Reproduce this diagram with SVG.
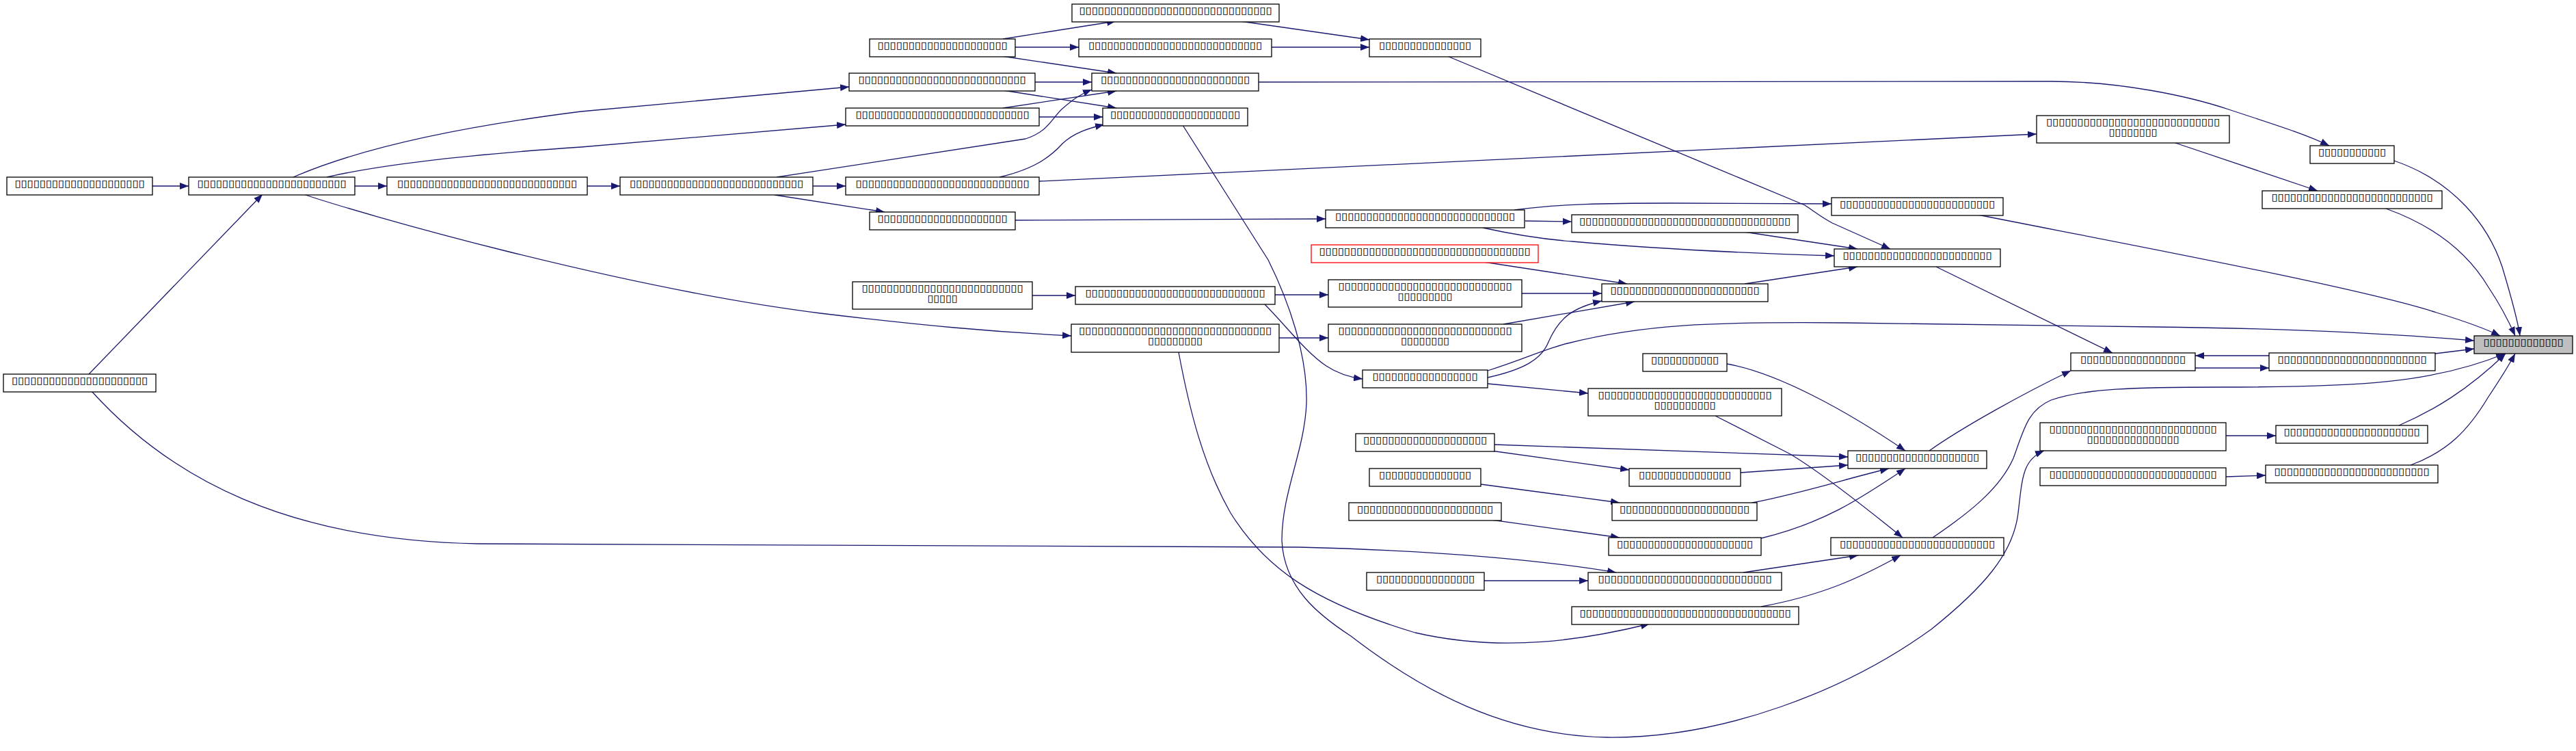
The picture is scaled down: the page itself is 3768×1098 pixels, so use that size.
<svg xmlns="http://www.w3.org/2000/svg" width="3768" height="1098" viewBox="0 0 3768 1098">
<style>
.n rect{fill:#fff;stroke:#000;stroke-width:1.3}
.n text{font-family:"DejaVu Sans",sans-serif;font-size:14px;text-anchor:middle;fill:#000;opacity:0.995}
.e path{fill:none;stroke:#191970;stroke-width:1.3;marker-end:url(#a)}
</style>
<defs>
<marker id="a" markerWidth="13" markerHeight="10" refX="13" refY="5" orient="auto" markerUnits="userSpaceOnUse"><path d="M0,0L13,5L0,10z" fill="#191970"/></marker>
</defs>
<rect width="3768" height="1098" fill="#fff"/>
<g class="e" id="edges">
<path d="M223,272L276,272"/>
<path d="M519,272L566,272"/>
<path d="M130,547L384,284"/>
<path d="M859,272L907,272"/>
<path d="M429,259C500,228 620,192 850,163L1242,127"/>
<path d="M478,259C560,240 700,225 850,215L1237,182"/>
<path d="M1189,272L1237,272"/>
<path d="M1133,285L1294,310"/>
<path d="M1136,259L1500,203C1535,192 1540,170 1555,158C1570,145 1580,138 1597,131"/>
<path d="M1514,120L1597,120"/>
<path d="M1467,132L1633,158"/>
<path d="M1520,171L1613,171"/>
<path d="M1467,158L1633,133"/>
<path d="M1485,69L1578,69"/>
<path d="M1467,57L1632,31"/>
<path d="M1465,82L1633,107"/>
<path d="M1462,259C1500,250 1530,237 1554,210C1570,195 1590,188 1615,182"/>
<path d="M1520,265L2979,196"/>
<path d="M1485,322L1939,320"/>
<path d="M1841,120L3000,119C3100,119 3200,140 3260,160C3320,180 3370,195 3407,213"/>
<path d="M1860,69L2003,69"/>
<path d="M1814,31L2003,58"/>
<path d="M2117,82L2640,300C2655,310 2665,318 2680,326L2765,364"/>
<path d="M2215,307C2280,298 2350,297 2444,297L2679,298"/>
<path d="M2231,323L2299,324"/>
<path d="M2169,333C2210,342 2260,350 2300,353C2400,362 2550,370 2683,374"/>
<path d="M2551,339L2717,364"/>
<path d="M2888,313C3100,355 3450,420 3564,457C3600,468 3630,478 3657,491"/>
<path d="M3182,209L3390,279"/>
<path d="M3502,235C3590,265 3640,330 3660,390C3675,440 3683,470 3686,491"/>
<path d="M3490,305C3560,330 3610,370 3640,420C3660,450 3672,475 3679,491"/>
<path d="M2832,390L3090,516"/>
<path d="M3211,538L3319,538"/>
<path d="M3319,520L3211,520"/>
<path d="M3562,517L3619,510"/>
<path d="M3509,622C3560,600 3610,570 3665,517"/>
<path d="M3526,680C3580,660 3610,630 3640,580C3660,550 3672,530 3679,517"/>
<path d="M3256,637L3329,637"/>
<path d="M3256,697L3314,695"/>
<path d="M2822,659C2870,625 2960,575 3029,542"/>
<path d="M2827,786C2880,750 2925,715 2945,670C2960,630 2965,600 3000,585C3050,568 3120,566 3250,566C3450,566 3560,560 3664,517"/>
<path d="M2186,650L2703,668"/>
<path d="M2181,659L2383,687"/>
<path d="M2546,691L2703,680"/>
<path d="M2166,708L2369,735"/>
<path d="M2563,735C2640,720 2700,700 2763,685"/>
<path d="M2181,760L2369,786"/>
<path d="M2576,787C2667,765 2720,730 2787,685"/>
<path d="M2171,849L2323,849"/>
<path d="M134,572C250,700 420,790 700,795L1900,800C2100,805 2250,818 2364,837"/>
<path d="M2550,837L2718,812"/>
<path d="M2576,887C2667,870 2720,845 2780,812"/>
<path d="M2509,608L2617,663C2660,688 2720,735 2783,786"/>
<path d="M2526,532C2600,545 2700,600 2787,659"/>
<path d="M2176,552C2230,540 2255,525 2265,500C2280,465 2300,450 2343,440"/>
<path d="M2176,561L2323,575"/>
<path d="M2176,542C2230,525 2260,510 2293,502C2400,475 2500,470 2700,472L3150,478C3350,480 3500,488 3619,498"/>
<path d="M1865,431L1943,431"/>
<path d="M1850,445C1880,475 1910,515 1940,535C1955,545 1970,551 1993,554"/>
<path d="M1510,432L1573,432"/>
<path d="M1871,494L1943,494"/>
<path d="M1724,515C1740,600 1760,680 1800,750C1850,830 1920,880 2070,925C2200,955 2320,935 2413,912"/>
<path d="M444,284C520,310 900,420 1200,458C1350,476 1450,485 1567,491"/>
<path d="M2226,429L2343,429"/>
<path d="M2199,474L2391,441"/>
<path d="M2170,383L2380,415"/>
<path d="M2552,415L2717,390"/>
<path d="M1730,183L1855,380C1885,440 1913,520 1911,590C1908,660 1875,720 1875,790C1878,860 1930,900 1976,930C2080,1010 2200,1075 2350,1078C2520,1080 2700,1010 2825,920C2900,860 2945,810 2952,750C2958,700 2958,672 2990,659"/>
</g>
<g class="n" id="n_target"><rect x="3619" y="491" width="144" height="26" style="fill:#bfbfbf"/><text x="3691" y="505" textLength="117" lengthAdjust="spacingAndGlyphs">▯▯▯▯▯▯▯▯▯▯▯▯▯</text></g>
<g class="n" id="n_a"><rect x="10" y="259" width="213" height="26"/><text x="116.5" y="273" textLength="190" lengthAdjust="spacingAndGlyphs">▯▯▯▯▯▯▯▯▯▯▯▯▯▯▯▯▯▯▯▯▯</text></g>
<g class="n" id="n_b"><rect x="5" y="547" width="223" height="26"/><text x="116.5" y="561" textLength="199" lengthAdjust="spacingAndGlyphs">▯▯▯▯▯▯▯▯▯▯▯▯▯▯▯▯▯▯▯▯▯▯</text></g>
<g class="n" id="n_c"><rect x="276" y="259" width="243" height="26"/><text x="397.5" y="273" textLength="218" lengthAdjust="spacingAndGlyphs">▯▯▯▯▯▯▯▯▯▯▯▯▯▯▯▯▯▯▯▯▯▯▯▯</text></g>
<g class="n" id="n_d"><rect x="566" y="259" width="293" height="26"/><text x="712.5" y="273" textLength="263" lengthAdjust="spacingAndGlyphs">▯▯▯▯▯▯▯▯▯▯▯▯▯▯▯▯▯▯▯▯▯▯▯▯▯▯▯▯▯</text></g>
<g class="n" id="n_e"><rect x="907" y="259" width="282" height="26"/><text x="1048" y="273" textLength="254" lengthAdjust="spacingAndGlyphs">▯▯▯▯▯▯▯▯▯▯▯▯▯▯▯▯▯▯▯▯▯▯▯▯▯▯▯▯</text></g>
<g class="n" id="n_h"><rect x="1272" y="57" width="213" height="26"/><text x="1378.5" y="71" textLength="190" lengthAdjust="spacingAndGlyphs">▯▯▯▯▯▯▯▯▯▯▯▯▯▯▯▯▯▯▯▯▯</text></g>
<g class="n" id="n_f"><rect x="1242" y="107" width="272" height="26"/><text x="1378" y="121" textLength="245" lengthAdjust="spacingAndGlyphs">▯▯▯▯▯▯▯▯▯▯▯▯▯▯▯▯▯▯▯▯▯▯▯▯▯▯▯</text></g>
<g class="n" id="n_g"><rect x="1237" y="158" width="283" height="26"/><text x="1378.5" y="172" textLength="254" lengthAdjust="spacingAndGlyphs">▯▯▯▯▯▯▯▯▯▯▯▯▯▯▯▯▯▯▯▯▯▯▯▯▯▯▯▯</text></g>
<g class="n" id="n_i"><rect x="1237" y="259" width="283" height="26"/><text x="1378.5" y="273" textLength="254" lengthAdjust="spacingAndGlyphs">▯▯▯▯▯▯▯▯▯▯▯▯▯▯▯▯▯▯▯▯▯▯▯▯▯▯▯▯</text></g>
<g class="n" id="n_j"><rect x="1272" y="310" width="213" height="26"/><text x="1378.5" y="324" textLength="190" lengthAdjust="spacingAndGlyphs">▯▯▯▯▯▯▯▯▯▯▯▯▯▯▯▯▯▯▯▯▯</text></g>
<g class="n" id="n_ac"><rect x="1247" y="412" width="263" height="40"/><text x="1378.5" y="426" textLength="236" lengthAdjust="spacingAndGlyphs">▯▯▯▯▯▯▯▯▯▯▯▯▯▯▯▯▯▯▯▯▯▯▯▯▯▯</text><text x="1378.5" y="441" textLength="44" lengthAdjust="spacingAndGlyphs">▯▯▯▯▯</text></g>
<g class="n" id="n_k"><rect x="1568" y="6" width="303" height="26"/><text x="1719.5" y="20" textLength="282" lengthAdjust="spacingAndGlyphs">▯▯▯▯▯▯▯▯▯▯▯▯▯▯▯▯▯▯▯▯▯▯▯▯▯▯▯▯▯▯▯</text></g>
<g class="n" id="n_l"><rect x="1578" y="57" width="282" height="26"/><text x="1719" y="71" textLength="254" lengthAdjust="spacingAndGlyphs">▯▯▯▯▯▯▯▯▯▯▯▯▯▯▯▯▯▯▯▯▯▯▯▯▯▯▯▯</text></g>
<g class="n" id="n_m"><rect x="1597" y="107" width="244" height="26"/><text x="1719" y="121" textLength="218" lengthAdjust="spacingAndGlyphs">▯▯▯▯▯▯▯▯▯▯▯▯▯▯▯▯▯▯▯▯▯▯▯▯</text></g>
<g class="n" id="n_n"><rect x="1613" y="158" width="212" height="26"/><text x="1719" y="172" textLength="190" lengthAdjust="spacingAndGlyphs">▯▯▯▯▯▯▯▯▯▯▯▯▯▯▯▯▯▯▯▯▯</text></g>
<g class="n" id="n_ab"><rect x="1573" y="419" width="292" height="26"/><text x="1719" y="433" textLength="263" lengthAdjust="spacingAndGlyphs">▯▯▯▯▯▯▯▯▯▯▯▯▯▯▯▯▯▯▯▯▯▯▯▯▯▯▯▯▯</text></g>
<g class="n" id="n_ad"><rect x="1567" y="474" width="304" height="41"/><text x="1719" y="488" textLength="282" lengthAdjust="spacingAndGlyphs">▯▯▯▯▯▯▯▯▯▯▯▯▯▯▯▯▯▯▯▯▯▯▯▯▯▯▯▯▯▯▯</text><text x="1719" y="503" textLength="80" lengthAdjust="spacingAndGlyphs">▯▯▯▯▯▯▯▯▯</text></g>
<g class="n" id="n_o"><rect x="2003" y="57" width="163" height="26"/><text x="2084.5" y="71" textLength="135" lengthAdjust="spacingAndGlyphs">▯▯▯▯▯▯▯▯▯▯▯▯▯▯▯</text></g>
<g class="n" id="n_t"><rect x="1939" y="307" width="291" height="26"/><text x="2084.5" y="321" textLength="263" lengthAdjust="spacingAndGlyphs">▯▯▯▯▯▯▯▯▯▯▯▯▯▯▯▯▯▯▯▯▯▯▯▯▯▯▯▯▯</text></g>
<g class="n" id="n_u"><rect x="2299" y="314" width="331" height="26"/><text x="2464.5" y="328" textLength="309" lengthAdjust="spacingAndGlyphs">▯▯▯▯▯▯▯▯▯▯▯▯▯▯▯▯▯▯▯▯▯▯▯▯▯▯▯▯▯▯▯▯▯▯</text></g>
<g class="n" id="n_s"><rect x="2679" y="289" width="251" height="26"/><text x="2804.5" y="303" textLength="227" lengthAdjust="spacingAndGlyphs">▯▯▯▯▯▯▯▯▯▯▯▯▯▯▯▯▯▯▯▯▯▯▯▯▯</text></g>
<g class="n" id="n_v"><rect x="2683" y="364" width="243" height="26"/><text x="2804.5" y="378" textLength="218" lengthAdjust="spacingAndGlyphs">▯▯▯▯▯▯▯▯▯▯▯▯▯▯▯▯▯▯▯▯▯▯▯▯</text></g>
<g class="n" id="n_x"><rect x="2343" y="415" width="243" height="26"/><text x="2464.5" y="429" textLength="218" lengthAdjust="spacingAndGlyphs">▯▯▯▯▯▯▯▯▯▯▯▯▯▯▯▯▯▯▯▯▯▯▯▯</text></g>
<g class="n" id="n_w"><rect x="1918" y="358" width="332" height="26" style="stroke:#ff0000"/><text x="2084" y="372" textLength="309" lengthAdjust="spacingAndGlyphs">▯▯▯▯▯▯▯▯▯▯▯▯▯▯▯▯▯▯▯▯▯▯▯▯▯▯▯▯▯▯▯▯▯▯</text></g>
<g class="n" id="n_y"><rect x="1943" y="409" width="283" height="40"/><text x="2084.5" y="423" textLength="254" lengthAdjust="spacingAndGlyphs">▯▯▯▯▯▯▯▯▯▯▯▯▯▯▯▯▯▯▯▯▯▯▯▯▯▯▯▯</text><text x="2084.5" y="438" textLength="80" lengthAdjust="spacingAndGlyphs">▯▯▯▯▯▯▯▯▯</text></g>
<g class="n" id="n_z"><rect x="1943" y="474" width="283" height="40"/><text x="2084.5" y="488" textLength="254" lengthAdjust="spacingAndGlyphs">▯▯▯▯▯▯▯▯▯▯▯▯▯▯▯▯▯▯▯▯▯▯▯▯▯▯▯▯</text><text x="2084.5" y="503" textLength="71" lengthAdjust="spacingAndGlyphs">▯▯▯▯▯▯▯▯</text></g>
<g class="n" id="n_aa"><rect x="1993" y="541" width="183" height="26"/><text x="2084.5" y="555" textLength="154" lengthAdjust="spacingAndGlyphs">▯▯▯▯▯▯▯▯▯▯▯▯▯▯▯▯▯</text></g>
<g class="n" id="n_p"><rect x="2979" y="169" width="282" height="40"/><text x="3120" y="183" textLength="254" lengthAdjust="spacingAndGlyphs">▯▯▯▯▯▯▯▯▯▯▯▯▯▯▯▯▯▯▯▯▯▯▯▯▯▯▯▯</text><text x="3120" y="198" textLength="71" lengthAdjust="spacingAndGlyphs">▯▯▯▯▯▯▯▯</text></g>
<g class="n" id="n_q"><rect x="3379" y="213" width="123" height="26"/><text x="3440.5" y="227" textLength="99" lengthAdjust="spacingAndGlyphs">▯▯▯▯▯▯▯▯▯▯▯</text></g>
<g class="n" id="n_r"><rect x="3309" y="279" width="263" height="26"/><text x="3440.5" y="293" textLength="236" lengthAdjust="spacingAndGlyphs">▯▯▯▯▯▯▯▯▯▯▯▯▯▯▯▯▯▯▯▯▯▯▯▯▯▯</text></g>
<g class="n" id="n_ae"><rect x="3029" y="516" width="182" height="26"/><text x="3120" y="530" textLength="154" lengthAdjust="spacingAndGlyphs">▯▯▯▯▯▯▯▯▯▯▯▯▯▯▯▯▯</text></g>
<g class="n" id="n_af"><rect x="3319" y="516" width="243" height="26"/><text x="3440.5" y="530" textLength="218" lengthAdjust="spacingAndGlyphs">▯▯▯▯▯▯▯▯▯▯▯▯▯▯▯▯▯▯▯▯▯▯▯▯</text></g>
<g class="n" id="n_ai"><rect x="2984" y="618" width="272" height="41"/><text x="3120" y="632" textLength="245" lengthAdjust="spacingAndGlyphs">▯▯▯▯▯▯▯▯▯▯▯▯▯▯▯▯▯▯▯▯▯▯▯▯▯▯▯</text><text x="3120" y="647" textLength="135" lengthAdjust="spacingAndGlyphs">▯▯▯▯▯▯▯▯▯▯▯▯▯▯▯</text></g>
<g class="n" id="n_aj"><rect x="3329" y="622" width="222" height="26"/><text x="3440" y="636" textLength="199" lengthAdjust="spacingAndGlyphs">▯▯▯▯▯▯▯▯▯▯▯▯▯▯▯▯▯▯▯▯▯▯</text></g>
<g class="n" id="n_ak"><rect x="2984" y="684" width="272" height="26"/><text x="3120" y="698" textLength="245" lengthAdjust="spacingAndGlyphs">▯▯▯▯▯▯▯▯▯▯▯▯▯▯▯▯▯▯▯▯▯▯▯▯▯▯▯</text></g>
<g class="n" id="n_al"><rect x="3314" y="680" width="252" height="26"/><text x="3440" y="694" textLength="227" lengthAdjust="spacingAndGlyphs">▯▯▯▯▯▯▯▯▯▯▯▯▯▯▯▯▯▯▯▯▯▯▯▯▯</text></g>
<g class="n" id="n_an"><rect x="2703" y="659" width="203" height="26"/><text x="2804.5" y="673" textLength="181" lengthAdjust="spacingAndGlyphs">▯▯▯▯▯▯▯▯▯▯▯▯▯▯▯▯▯▯▯▯</text></g>
<g class="n" id="n_at"><rect x="2678" y="786" width="253" height="26"/><text x="2804.5" y="800" textLength="227" lengthAdjust="spacingAndGlyphs">▯▯▯▯▯▯▯▯▯▯▯▯▯▯▯▯▯▯▯▯▯▯▯▯▯</text></g>
<g class="n" id="n_ag"><rect x="2403" y="517" width="123" height="26"/><text x="2464.5" y="531" textLength="99" lengthAdjust="spacingAndGlyphs">▯▯▯▯▯▯▯▯▯▯▯</text></g>
<g class="n" id="n_ah"><rect x="2323" y="568" width="283" height="40"/><text x="2464.5" y="582" textLength="254" lengthAdjust="spacingAndGlyphs">▯▯▯▯▯▯▯▯▯▯▯▯▯▯▯▯▯▯▯▯▯▯▯▯▯▯▯▯</text><text x="2464.5" y="597" textLength="90" lengthAdjust="spacingAndGlyphs">▯▯▯▯▯▯▯▯▯▯</text></g>
<g class="n" id="n_ao"><rect x="2383" y="685" width="163" height="26"/><text x="2464.5" y="699" textLength="135" lengthAdjust="spacingAndGlyphs">▯▯▯▯▯▯▯▯▯▯▯▯▯▯▯</text></g>
<g class="n" id="n_aq"><rect x="2358" y="735" width="212" height="26"/><text x="2464" y="749" textLength="190" lengthAdjust="spacingAndGlyphs">▯▯▯▯▯▯▯▯▯▯▯▯▯▯▯▯▯▯▯▯▯</text></g>
<g class="n" id="n_as"><rect x="2353" y="786" width="223" height="26"/><text x="2464.5" y="800" textLength="199" lengthAdjust="spacingAndGlyphs">▯▯▯▯▯▯▯▯▯▯▯▯▯▯▯▯▯▯▯▯▯▯</text></g>
<g class="n" id="n_au"><rect x="2323" y="837" width="283" height="26"/><text x="2464.5" y="851" textLength="254" lengthAdjust="spacingAndGlyphs">▯▯▯▯▯▯▯▯▯▯▯▯▯▯▯▯▯▯▯▯▯▯▯▯▯▯▯▯</text></g>
<g class="n" id="n_aw"><rect x="2299" y="887" width="332" height="26"/><text x="2465" y="901" textLength="309" lengthAdjust="spacingAndGlyphs">▯▯▯▯▯▯▯▯▯▯▯▯▯▯▯▯▯▯▯▯▯▯▯▯▯▯▯▯▯▯▯▯▯▯</text></g>
<g class="n" id="n_am"><rect x="1983" y="634" width="203" height="26"/><text x="2084.5" y="648" textLength="181" lengthAdjust="spacingAndGlyphs">▯▯▯▯▯▯▯▯▯▯▯▯▯▯▯▯▯▯▯▯</text></g>
<g class="n" id="n_ap"><rect x="2003" y="685" width="163" height="26"/><text x="2084.5" y="699" textLength="135" lengthAdjust="spacingAndGlyphs">▯▯▯▯▯▯▯▯▯▯▯▯▯▯▯</text></g>
<g class="n" id="n_ar"><rect x="1973" y="735" width="223" height="26"/><text x="2084.5" y="749" textLength="199" lengthAdjust="spacingAndGlyphs">▯▯▯▯▯▯▯▯▯▯▯▯▯▯▯▯▯▯▯▯▯▯</text></g>
<g class="n" id="n_av"><rect x="1999" y="837" width="172" height="26"/><text x="2085" y="851" textLength="144" lengthAdjust="spacingAndGlyphs">▯▯▯▯▯▯▯▯▯▯▯▯▯▯▯▯</text></g>
</svg>
